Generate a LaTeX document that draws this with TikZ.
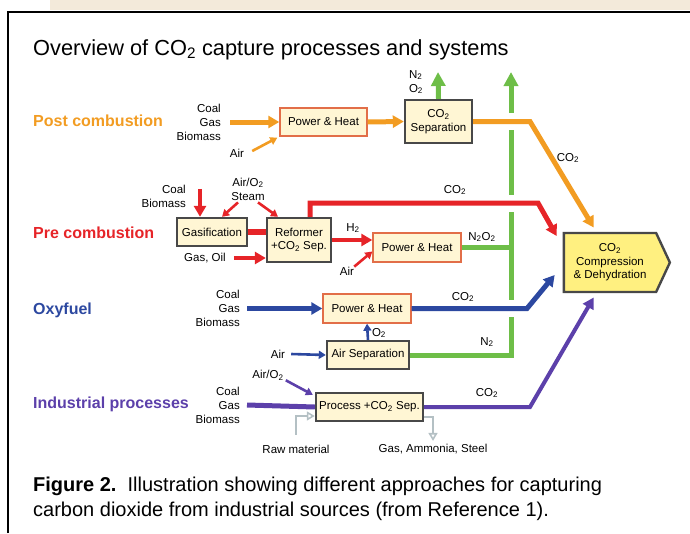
\documentclass[tikz,border=0pt]{standalone}
\usepackage{fontspec}
\setmainfont{Liberation Sans}
\usepackage{tikz}
\usetikzlibrary{arrows.meta, positioning, shapes.symbols}
\definecolor{postorange}{RGB}{242,156,34}
\definecolor{prered}{RGB}{230,36,40}
\definecolor{oxyblue}{RGB}{44,72,160}
\definecolor{indpurple}{RGB}{92,64,170}
\definecolor{ventgreen}{RGB}{110,190,72}
\definecolor{boxcream}{RGB}{255,246,212}
\definecolor{compyellow}{RGB}{255,240,128}
\definecolor{boxedge}{RGB}{72,72,72}
\definecolor{heatedge}{RGB}{226,110,72}
\definecolor{pagebeige}{RGB}{243,234,218}
\definecolor{goodsgray}{RGB}{180,192,196}
\newcommand{\COtwo}{CO\textsubscript{2}}

\begin{document}
\begin{tikzpicture}[
    x=1pt, y=-1pt,
    txt/.style={inner sep=0pt, font=\fontsize{11.5}{14}\selectfont},
    fuel/.style={txt, align=right, anchor=east},
    cat/.style={inner sep=0pt, anchor=west, font=\fontsize{16}{19}\selectfont\bfseries},
    procbox/.style={draw=boxedge, line width=2.4pt, fill=boxcream, inner sep=1pt,
                    align=center, font=\fontsize{11.5}{13.5}\selectfont},
    heat/.style={procbox, draw=heatedge, line width=1.4pt},
    flow/.style={line width=5pt, -{Triangle[length=11pt,width=12pt]}},
    vent/.style={line width=5pt, ventgreen, -{Triangle[length=14pt,width=14pt]}},
    feed/.style={line width=2.6pt, -{Triangle[length=7pt,width=8pt]}},
    gap/.style={draw=white, line width=17pt},
    goods/.style={draw=goodsgray, line width=1.6pt, -{Triangle[open,length=8pt,width=9pt]}}
  ]
  \useasboundingbox (0,0) rectangle (690,533);

  % page frame
  \fill[pagebeige] (50,0) rectangle (690,10);
  \draw[line width=2pt] (8,533) -- (8,12) -- (690,12);

  \node[anchor=base west, inner sep=0pt, font=\fontsize{21.8}{26}\selectfont] (title) at (33,55)
    {Overview of \COtwo\ capture processes and systems};

  % Post combustion
  \node[cat, text=postorange] (postlbl) at (33,121) {Post combustion};
  \node[fuel] (postfuel) at (221,122) {Coal\\Gas\\Biomass};
  \node[heat, minimum width=87pt, minimum height=28pt] (postheat) at (323.5,122) {Power \& Heat};
  \node[procbox, minimum width=67pt, minimum height=43pt] (postsep) at (438.5,121.5) {\COtwo\\Separation};
  \node[txt] (postair) at (237,153) {Air};
  \node[txt, align=left] (postvent) at (416,82) {N\textsubscript{2}\\O\textsubscript{2}};
  \node[txt] (postco2) at (568,158) {\COtwo};

  % Pre combustion
  \node[cat, text=prered] (prelbl) at (33,233) {Pre combustion};
  \node[fuel] (prefuel) at (186,196) {Coal\\Biomass};
  \node[procbox, minimum width=70pt, minimum height=28pt] (gasif) at (212,232) {Gasification};
  \node[txt, align=center] (steam) at (248,189) {Air/O\textsubscript{2}\\Steam};
  \node[procbox, minimum width=64pt, minimum height=44pt] (reform) at (299,240) {Reformer\\+\COtwo\ Sep.};
  \node[txt] (gasoil) at (205,258) {Gas, Oil};
  \node[heat, minimum width=88pt, minimum height=29pt] (preheat) at (417,247.5) {Power \& Heat};
  \node[txt] (preh2) at (353,228) {H\textsubscript{2}};
  \node[txt] (preair) at (347,271) {Air};
  \node[txt] (pren2o2) at (482,237) {N\textsubscript{2}O\textsubscript{2}};
  \node[txt] (preco2) at (455,190) {\COtwo};

  % Oxyfuel
  \node[cat, text=oxyblue] (oxylbl) at (33,310) {Oxyfuel};
  \node[fuel] (oxyfuel) at (240,308.5) {Coal\\Gas\\Biomass};
  \node[heat, minimum width=88pt, minimum height=29pt] (oxyheat) at (367,308.5) {Power \& Heat};
  \node[procbox, minimum width=82pt, minimum height=28pt] (airsep) at (368,355) {Air Separation};
  \node[txt] (oxyair) at (278,354) {Air};
  \node[txt] (oxyo2) at (379,333) {O\textsubscript{2}};
  \node[txt] (oxyn2) at (487,342) {N\textsubscript{2}};
  \node[txt] (oxyco2) at (463,297) {\COtwo};

  % Industrial processes
  \node[cat, text=indpurple] (indlbl) at (33,404) {Industrial processes};
  \node[fuel] (indfuel) at (240,405) {Coal\\Gas\\Biomass};
  \node[procbox, minimum width=107pt, minimum height=28pt] (process) at (369.5,407) {Process +\COtwo\ Sep.};
  \node[txt] (indair) at (268,375) {Air/O\textsubscript{2}};
  \node[txt] (rawlbl) at (296,449) {Raw material};
  \node[txt] (prodlbl) at (433,449) {Gas, Ammonia, Steel};
  \node[txt] (indco2) at (487,393) {\COtwo};

  % Compression
  \node[procbox, shape=signal, signal to=east, signal pointer angle=130, fill=compyellow,
        minimum width=106pt, minimum height=59pt] (comp) at (610,262.5)
    {\COtwo\\Compression\\\& Dehydration};

  \coordinate (ventP) at (438,72);
  \coordinate (ventR) at (511,72);
  \coordinate (postbend) at (530,121.5);
  \coordinate (prebend) at (538,203);
  \coordinate (oxybend) at (527,308.5);
  \coordinate (indbend) at (530,407);

  % vented gases
  \draw[vent] (postsep.north) -- (ventP);
  \draw[vent] (airsep.east) -| (ventR);
  \draw[line width=5pt, ventgreen] (preheat.east) -- (preheat.east -| ventR);
  \foreach \c in {postbend, prebend, oxybend}
    \draw[gap] ([xshift=-10pt]ventR |- \c) -- ([xshift=10pt]ventR |- \c);

  % post combustion flows
  \draw[flow, postorange] ([xshift=9pt]postfuel.east) -- (postheat.west);
  \draw[feed, postorange] ([xshift=8pt,yshift=2pt]postair.east) -- ([xshift=-2pt,yshift=-1pt]postheat.south west);
  \draw[flow, postorange] (postheat.east) -- (postsep.west);
  \draw[flow, postorange] (postsep.east) -- (postbend) -- ([xshift=31pt,yshift=35pt]comp.west);

  % pre combustion flows
  \draw[flow, prered, line width=4pt] ([xshift=-12pt,yshift=28pt]gasif.north) -- ([xshift=-12pt]gasif.north);
  \draw[feed, prered] ([xshift=-10pt,yshift=-2pt]steam.south) -- ([xshift=10pt]gasif.north);
  \draw[feed, prered] ([xshift=10pt,yshift=-2pt]steam.south) -- ([xshift=-21pt]reform.north);
  \draw[line width=6pt, prered] (gasif.east) -- (gasif.east -| reform.west);
  \draw[flow, prered, line width=4pt] ([xshift=8pt]gasoil.east) -- (gasoil.east -| reform.west);
  \draw[flow, prered] ([xshift=11pt]reform.north) |- (prebend) -- ([xshift=-6pt,yshift=26.5pt]comp.west);
  \draw[flow, prered, line width=4pt] (reform.east) -- (reform.east -| preheat.west);
  \draw[feed, prered] (preair.north east) -- ([yshift=-4pt]preheat.west);

  % oxyfuel flows
  \draw[flow, oxyblue] ([xshift=7pt]oxyfuel.east) -- (oxyheat.west);
  \draw[flow, oxyblue] (oxyheat.east) -- (oxybend) -- ([xshift=-8pt,yshift=-12.5pt]comp.west);
  \draw[feed, oxyblue] (airsep.north) -- (oxyheat.south);
  \draw[feed, oxyblue] ([xshift=6pt]oxyair.east) -- (airsep.west);

  % industrial flows
  \draw[line width=5pt, indpurple] ([xshift=7pt]indfuel.east) -- (process.west);
  \draw[feed, indpurple] ([xshift=2pt]indair.south east) -- ([xshift=-2pt,yshift=-3pt]process.north west);
  \draw[flow, indpurple, line width=4pt] (process.east) -- (indbend) -- ([xshift=31pt,yshift=-35pt]comp.west);
  \draw[goods] ([yshift=10pt]rawlbl.north) |- ([yshift=-9pt]process.west);
  \draw[goods] ([yshift=-10pt]process.east) -| ([yshift=3pt]prodlbl.north);

  \node[anchor=north west, inner sep=0pt, align=left, font=\fontsize{20}{25}\selectfont] (caption) at (33,477)
    {\textbf{Figure 2.}\ \ Illustration showing different approaches for capturing\\
     carbon dioxide from industrial sources (from Reference 1).};
\end{tikzpicture}
\end{document}
